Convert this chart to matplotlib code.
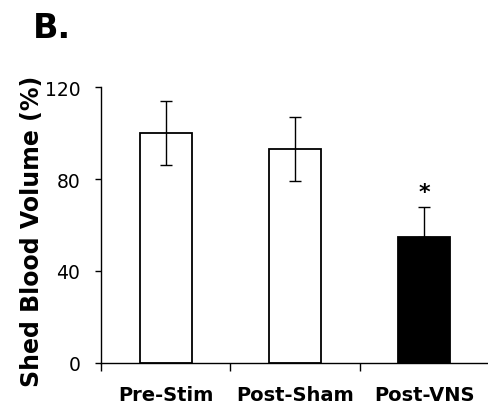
import numpy as np
from matplotlib import pyplot as plt

categories = ['Pre-Stim', 'Post-Sham', 'Post-VNS']
means = [100, 93, 55]
errors = [14, 14, 13]
colors = ['white', 'white', 'black']
yticks = [0, 40, 80, 120]

fig = plt.figure(figsize=(4.88, 4.14), dpi=100)
ax = fig.add_axes([0.207, 0.121, 0.795, 0.666])

x = np.arange(len(categories))
ax.bar(x, means, width=0.4, color=colors, edgecolor='black', linewidth=1.3, zorder=2)
# upper error bars only
ax.errorbar(x, means, yerr=[[14, 14, 0], errors], fmt='none', ecolor='black',
            elinewidth=1.0, capsize=4.5, capthick=1.0, zorder=3)
ax.text(2, 70, '*', ha='center', va='bottom', fontsize=16, fontweight='bold')

ax.set_xlim(-0.5, 2.5)
ax.set_ylim(0, 120)
ax.set_yticks(yticks)
ax.set_yticklabels([str(v) for v in yticks], fontsize=13.5)
ax.tick_params(axis='y', direction='out', length=4, width=1.0, pad=11)

ax.set_xticks([-0.5, 0.5, 1.5, 2.5])
ax.set_xticklabels([])
ax.tick_params(axis='x', which='major', direction='out', length=6, width=1.0)
ax.set_xticks(x, minor=True)
ax.set_xticklabels(categories, minor=True, fontsize=14, fontweight='bold')
ax.tick_params(axis='x', which='minor', length=0, pad=16)

ax.set_ylabel('Shed Blood Volume (%)', fontsize=17, fontweight='bold')
ax.yaxis.set_label_coords(-0.148, 0.48)

for side in ['top', 'right']:
    ax.spines[side].set_visible(False)
ax.spines['left'].set_linewidth(1.0)
ax.spines['bottom'].set_linewidth(1.0)

fig.text(0.068, 0.908, 'B.', fontsize=24, fontweight='bold', ha='left', va='baseline')

fig.savefig('out.png', dpi=100)
